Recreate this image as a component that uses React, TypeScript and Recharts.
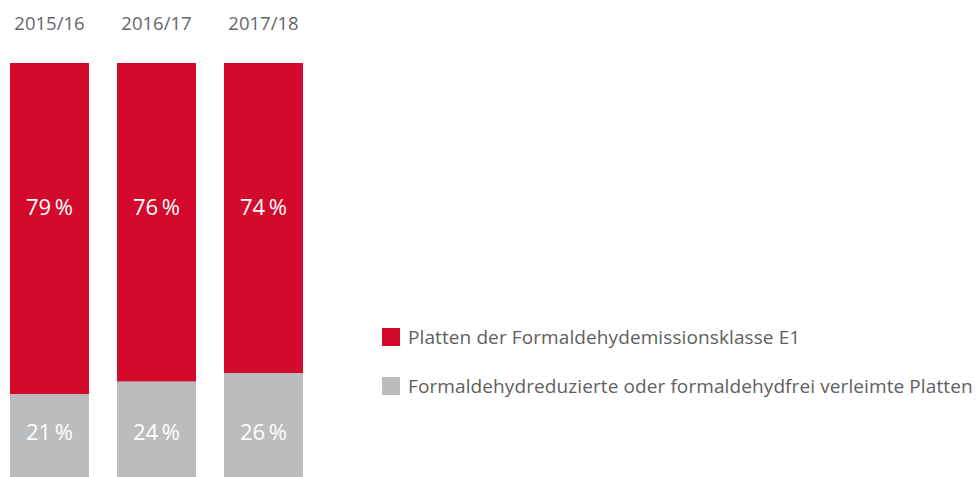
import { BarChart, Bar, XAxis, YAxis, LabelList } from "recharts";

const years = ["2015/16", "2016/17", "2017/18"];
const e1Values = [79, 76, 74];
const reducedValues = [21, 24, 26];
const seriesNames = [
  "Platten der Formaldehydemissionsklasse E1",
  "Formaldehydreduzierte oder formaldehydfrei verleimte Platten",
];

const RED = "#d40a2d";
const GREY = "#bbbcbe";
const FONT = '"Open Sans", "Noto Sans", sans-serif';

const data = years.map((year, i) => ({
  year,
  e1: e1Values[i],
  reduced: reducedValues[i],
}));

const TopLabel = (props: any) => {
  const { x, y, width, value } = props;
  return (
    <text
      x={x + width / 2}
      y={y + 143}
      fill="#fff"
      fontSize={22}
      fontFamily={FONT}
      textAnchor="middle"
      dominantBaseline="central"
    >
      {value}
      {"\u2009%"}
    </text>
  );
};

const BottomLabel = (props: any) => {
  const { x, y, width, height, value } = props;
  return (
    <text
      x={x + width / 2}
      y={y + height - 51}
      fill="#fff"
      fontSize={22}
      fontFamily={FONT}
      textAnchor="middle"
      dominantBaseline="central"
    >
      {value}
      {"\u2009%"}
    </text>
  );
};

// legend sits beside the bars, outside the svg so it doesn't eat plot space
const ChartLegend = () => {
  const colors = [RED, GREY];
  return (
    <div
      style={{
        position: "absolute",
        left: 382,
        top: 328,
        fontFamily: FONT,
        fontSize: 19,
        letterSpacing: 0.1,
        color: "#606060",
      }}
    >
      {seriesNames.map((name, i) => (
        <div
          key={name}
          style={{ display: "flex", alignItems: "center", height: 18, marginBottom: i === 0 ? 31 : 0 }}
        >
          <span
            style={{ display: "inline-block", width: 18, height: 18, background: colors[i], marginRight: 8 }}
          />
          <span style={{ whiteSpace: "nowrap" }}>{name}</span>
        </div>
      ))}
    </div>
  );
};

export default function App() {
  return (
    <div style={{ position: "fixed", left: 0, top: 0, width: 980, height: 477, overflow: "hidden", background: "#fff" }}>
      <div style={{ position: "absolute", left: -4, top: 0 }}>
        <BarChart
          width={984}
          height={490}
          data={data}
          barSize={79}
          margin={{ top: 0, right: 663, bottom: 8, left: 0 }}
        >
          <XAxis
            dataKey="year"
            orientation="top"
            height={63}
            axisLine={false}
            tickLine={false}
            tickMargin={27}
            tick={{ fill: "#666", fontSize: 18.5, fontFamily: FONT }}
          />
          <YAxis hide domain={[0, 100]} />
          <Bar dataKey="reduced" stackId="a" fill={GREY} isAnimationActive={false}>
            <LabelList dataKey="reduced" content={BottomLabel} />
          </Bar>
          <Bar dataKey="e1" stackId="a" fill={RED} isAnimationActive={false}>
            <LabelList dataKey="e1" content={TopLabel} />
          </Bar>
        </BarChart>
      </div>
      <ChartLegend />
    </div>
  );
}
